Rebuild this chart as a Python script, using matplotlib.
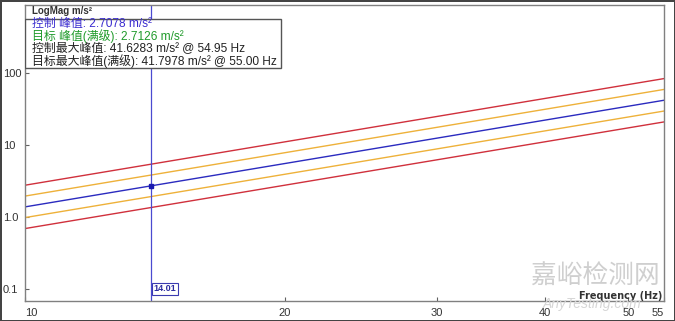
import matplotlib
matplotlib.use("Agg")
import matplotlib.pyplot as plt
from matplotlib.patches import Rectangle
from matplotlib.ticker import FixedLocator, NullLocator

# ---- data ----
freq = [10, 55]                      # Hz, ends of the profile
control = [1.38, 41.8]               # blue, m/s^2
upper_abort = [2.76, 83.6]           # red upper
upper_alarm = [1.95, 59.1]           # orange upper
lower_alarm = [0.98, 29.6]           # orange lower
lower_abort = [0.69, 20.9]           # red lower
cursor_freq = 14.01
cursor_value = 2.7078

x_ticks = [10, 20, 30, 40, 50, 55]
x_ticklabels = ["10", "20", "30", "40", "50", "55"]
y_ticks = [0.1, 1.0, 10, 100]
y_ticklabels = ["0.1", "1.0", "10", "100"]

info_lines = [
    ("控制 峰值: 2.7078 m/s²", "#3a2ccf"),
    ("目标 峰值(满级): 2.7126 m/s²", "#1f9a2a"),
    ("控制最大峰值: 41.6283 m/s² @ 54.95 Hz", "#222222"),
    ("目标最大峰值(满级): 41.7978 m/s² @ 55.00 Hz", "#222222"),
]

FAM = ["Liberation Sans", "Noto Sans CJK SC", "DejaVu Sans"]
plt.rcParams["font.family"] = FAM

W, H = 675, 321
fig = plt.figure(figsize=(6.75, 3.21), dpi=100)
fig.patch.set_facecolor("white")

L, R, B, T = 25, 664, 301, 5
ax = fig.add_axes([L / W, 1 - B / H, (R - L) / W, (B - T) / H])
ax.set_xscale("log")
ax.set_yscale("log")
ax.set_xlim(10, 55)
ax.set_ylim(0.068, 880)

red = "#d0303c"
orange = "#eeb13a"
blue = "#2b2bbf"
lw = 1.0
ax.plot(freq, upper_abort, color=red, lw=lw)
ax.plot(freq, upper_alarm, color=orange, lw=lw)
ax.plot(freq, control, color=blue, lw=lw)
ax.plot(freq, lower_alarm, color=orange, lw=lw)
ax.plot(freq, lower_abort, color=red, lw=lw)

ax.axvline(cursor_freq, color="#4a4ad0", lw=0.9)
ax.plot([cursor_freq], [cursor_value], marker="s", ms=3.2, color="#1a1ab0", mec="#1a1ab0")

for s in ax.spines.values():
    s.set_color("#808080")
    s.set_linewidth(1.0)

ax.xaxis.set_major_locator(FixedLocator(x_ticks))
ax.xaxis.set_minor_locator(NullLocator())
ax.set_xticklabels(x_ticklabels)
ax.yaxis.set_major_locator(FixedLocator(y_ticks))
ax.yaxis.set_minor_locator(NullLocator())
ax.set_yticklabels(y_ticklabels)
ax.tick_params(axis="both", direction="in", length=3, color="#606060",
               labelsize=8, labelcolor="#333333")
ax.tick_params(axis="x", pad=5)
ax.tick_params(axis="y", pad=16)
for lab in ax.get_yticklabels():
    lab.set_horizontalalignment("left")
xl = ax.get_xticklabels()
xl[0].set_horizontalalignment("left")
xl[-1].set_horizontalalignment("right")

# title inside the axes
ax.text(7 / (R - L), 1 - 6 / (B - T), "LogMag m/s²", transform=ax.transAxes,
        fontsize=7, fontweight="bold", color="#333333", va="center", ha="left")

# info box
bx0, bx1, by0, by1 = 25, 281, 19, 68
ax.add_patch(Rectangle(((bx0 - L) / (R - L), (B - by1) / (B - T)),
                       (bx1 - bx0) / (R - L), (by1 - by0) / (B - T),
                       transform=ax.transAxes, fill=True, facecolor="white",
                       edgecolor="#555555", lw=1.0, zorder=5))
ys = [24, 36, 49, 61]
for (txt, col), yy in zip(info_lines, ys):
    ax.text(7 / (R - L), (B - yy) / (B - T), txt, transform=ax.transAxes,
            fontsize=8.6, color=col, va="center", ha="left", zorder=6)

# cursor label
ax.text(cursor_freq * 1.006, 0.1, "14.01", fontsize=6.5, color="#2b2b9f",
        fontweight="bold", ha="left", va="center", zorder=6,
        bbox=dict(boxstyle="square,pad=0.15", fc="white", ec="#3a3ab0", lw=0.8))

# watermark
fig.text(595 / W, 1 - 277 / H, "嘉峪检测网", fontsize=18.5, color="#cfcfcf",
         ha="center", va="center", family=["Noto Sans CJK SC"], zorder=1)
fig.text(592 / W, 1 - 304 / H, "AnyTesting.com", fontsize=10, color="#d6d6d6",
         ha="center", va="center", style="italic", zorder=1)

# x-axis label inside axes
ax.text(1 - 2 / (R - L), 5 / (B - T), "Frequency (Hz)", transform=ax.transAxes,
        fontsize=7, fontweight="bold", color="#333333", ha="right", va="center", zorder=6,
        family=["DejaVu Sans"])

fig.patch.set_edgecolor("#444444")
fig.patch.set_linewidth(2)

fig.savefig("out.png", dpi=100)
